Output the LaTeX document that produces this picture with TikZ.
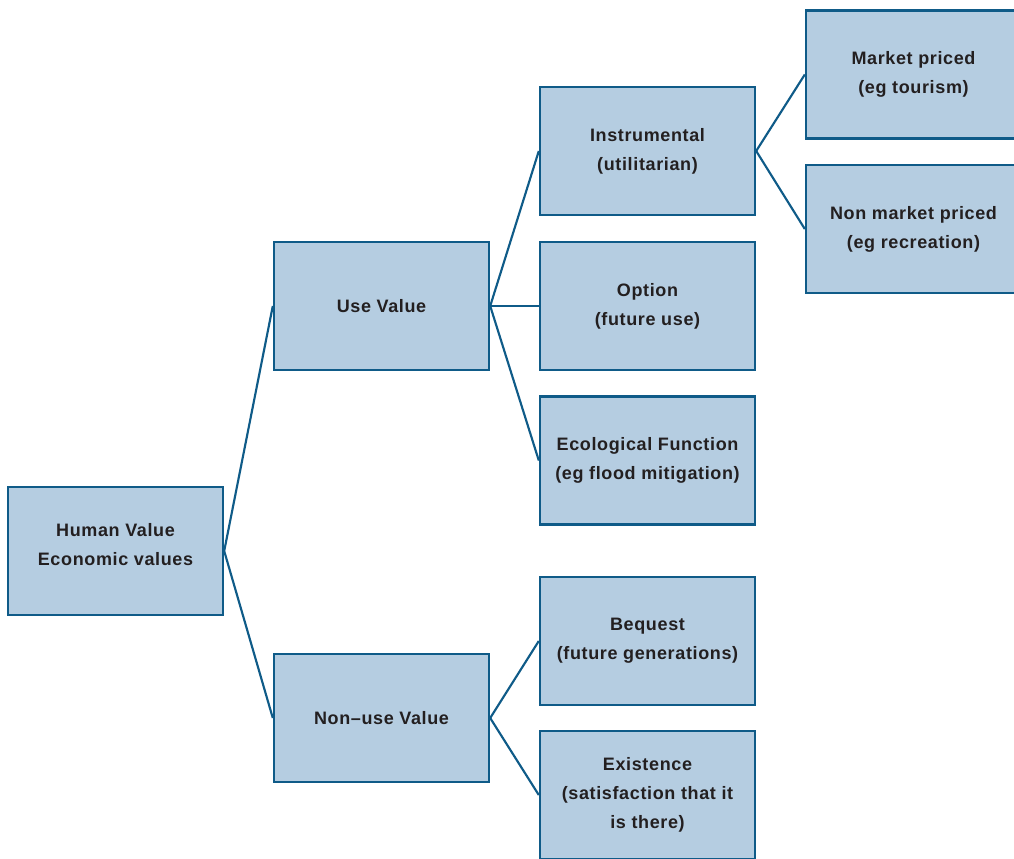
\documentclass[tikz,border=0pt]{standalone}
\usepackage{fontspec}
\setmainfont{Liberation Sans}
\newfontfamily\boxfont[LetterSpace=3.5]{Liberation Sans}
\usetikzlibrary{positioning}
\definecolor{edgeblue}{HTML}{0F5B88}
\definecolor{boxfill}{HTML}{B5CDE1}
\definecolor{textdark}{HTML}{231F20}

\begin{document}
\begin{tikzpicture}[x=0.75pt, y=-0.75pt,
    vbox/.style={rectangle, draw=edgeblue, fill=boxfill, line width=1.8pt, minimum width=161.25pt, minimum height=96pt, inner sep=2pt, align=center, text=textdark, font=\boxfont\bfseries\fontsize{13.5}{21.8}\selectfont},
    link/.style={edgeblue, line width=1.6pt}]
    \useasboundingbox (0,0) rectangle (1014,858);
    \clip (0,0) rectangle (1014,858);
    \node[vbox, text depth=10pt] (human) at (115.5,551) {Human Value\\Economic values};
    \node[vbox] (use) at (381.5,306) {Use Value};
    \node[vbox] (nonuse) at (381.5,718) {Non–use Value};
    \node[vbox] (instr) at (647.5,151) {Instrumental\\(utilitarian)};
    \node[vbox] (option) at (647.5,306) {Option\\(future use)};
    \node[vbox] (eco) at (647.5,460.5) {Ecological Function\\(eg flood mitigation)};
    \node[vbox] (bequest) at (647.5,641) {Bequest\\(future generations)};
    \node[vbox] (exist) at (647.5,795) {Existence\\(satisfaction that it\\is there)};
    \node[vbox] (market) at (913.5,74.5) {Market priced\\(eg tourism)};
    \node[vbox] (nonmarket) at (913.5,229) {Non market priced\\(eg recreation)};
    \draw[link] (human.east)--(use.west);
    \draw[link] (human.east)--(nonuse.west);
    \draw[link] (use.east)--(instr.west);
    \draw[link] (use.east)--(option.west);
    \draw[link] (use.east)--(eco.west);
    \draw[link] (nonuse.east)--(bequest.west);
    \draw[link] (nonuse.east)--(exist.west);
    \draw[link] (instr.east)--(market.west);
    \draw[link] (instr.east)--(nonmarket.west);
\end{tikzpicture}
\end{document}
